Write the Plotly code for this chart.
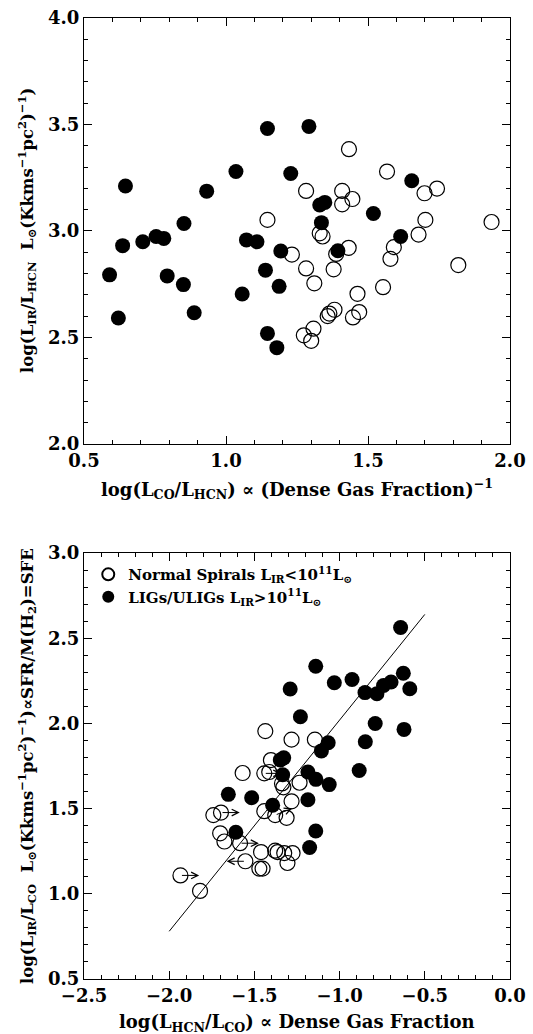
import plotly.graph_objects as go

# ---------------- Top panel data: log(LIR/LHCN) vs log(LCO/LHCN) ----------------
top_filled_x = [0.646, 0.636, 0.707, 0.754, 0.781, 0.852, 0.932, 1.035, 1.072, 1.109,
                1.146, 1.193, 1.228, 1.292, 1.330, 1.348, 1.336, 1.394, 1.519, 1.615,
                1.654, 0.590, 0.793, 0.850, 0.621, 0.888, 1.057, 1.139, 1.187, 1.146,
                1.179]
top_filled_y = [3.211, 2.931, 2.949, 2.974, 2.965, 3.035, 3.187, 3.279, 2.958, 2.949,
                3.481, 2.906, 3.270, 3.491, 3.122, 3.134, 3.039, 2.907, 3.082, 2.974,
                3.236, 2.794, 2.789, 2.748, 2.591, 2.616, 2.704, 2.816, 2.740, 2.519,
                2.452]
top_open_x = [1.146, 1.282, 1.433, 1.409, 1.409, 1.445, 1.567, 1.699, 1.743, 1.702,
              1.678, 1.935, 1.330, 1.340, 1.232, 1.432, 1.388, 1.591, 1.579, 1.818,
              1.282, 1.379, 1.311, 1.553, 1.463, 1.382, 1.364, 1.358, 1.447, 1.469,
              1.308, 1.274, 1.300]
top_open_y = [3.052, 3.188, 3.384, 3.188, 3.125, 3.150, 3.279, 3.177, 3.199, 3.052,
              2.983, 3.042, 2.989, 2.974, 2.889, 2.921, 2.892, 2.924, 2.869, 2.840,
              2.824, 2.820, 2.754, 2.736, 2.705, 2.630, 2.612, 2.600, 2.594, 2.619,
              2.541, 2.510, 2.484]

# ---------------- Bottom panel data: log(LIR/LCO) vs log(LHCN/LCO) ----------------
bot_filled_x = [-0.642, -1.140, -1.290, -1.031, -0.927, -0.851, -0.781, -0.742, -0.698, -0.626,
                -0.588, -1.230, -0.791, -0.622, -1.067, -1.107, -0.849, -1.328, -1.348, -1.334,
                -1.186, -1.139, -1.061, -0.885, -1.653, -1.516, -1.393, -1.186, -1.609, -1.140,
                -1.176]
bot_filled_y = [2.563, 2.336, 2.202, 2.239, 2.258, 2.181, 2.175, 2.223, 2.243, 2.295,
                2.204, 2.039, 2.000, 1.965, 1.887, 1.839, 1.893, 1.798, 1.786, 1.699,
                1.715, 1.672, 1.641, 1.724, 1.584, 1.564, 1.520, 1.552, 1.361, 1.369,
                1.272]
bot_open_x = [-1.436, -1.282, -1.145, -1.403, -1.413, -1.442, -1.569, -1.338, -1.235, -1.330,
              -1.282, -1.442, -1.378, -1.311, -1.741, -1.696, -1.701, -1.676, -1.584, -1.553,
              -1.461, -1.471, -1.452, -1.378, -1.364, -1.325, -1.276, -1.306, -1.934, -1.819]
bot_open_y = [1.955, 1.905, 1.905, 1.785, 1.715, 1.707, 1.709, 1.648, 1.652, 1.625,
              1.543, 1.485, 1.462, 1.446, 1.462, 1.477, 1.355, 1.307, 1.297, 1.191,
              1.245, 1.148, 1.148, 1.253, 1.245, 1.239, 1.239, 1.181, 1.108, 1.017]

# limit arrows (tail at a point, signed length along x)
arrow_x = [-1.934, -1.696, -1.584, -1.553, -1.378, -1.442]
arrow_y = [1.108, 1.477, 1.297, 1.191, 1.462, 1.707]
arrow_dx = [0.11, 0.11, 0.11, -0.11, 0.10, 0.10]
arrow_dy = [0.0, 0.0, 0.0, 0.0, 0.04, 0.0]

# fit line: log(LIR/LCO) = slope*log(LHCN/LCO) + intercept
fit_slope = 1.24
fit_intercept = 3.26
fit_xrange = [-2.0, -0.5]

# tick labels
top_xticks = [0.5, 1.0, 1.5, 2.0]
top_yticks = [2.0, 2.5, 3.0, 3.5, 4.0]
bot_xticks = [-2.5, -2.0, -1.5, -1.0, -0.5, 0.0]
bot_yticks = [0.5, 1.0, 1.5, 2.0, 2.5, 3.0]

FONT = "DejaVu Serif"
MS = 15

fig = go.Figure()

fig.add_trace(go.Scatter(x=top_open_x, y=top_open_y, mode="markers", xaxis="x", yaxis="y",
                         marker=dict(symbol="circle-open", size=MS, color="black",
                                     line=dict(width=1.2, color="black")),
                         showlegend=False))
fig.add_trace(go.Scatter(x=top_filled_x, y=top_filled_y, mode="markers", xaxis="x", yaxis="y",
                         marker=dict(symbol="circle", size=MS, color="black"),
                         showlegend=False))

fig.add_trace(go.Scatter(x=bot_open_x, y=bot_open_y, mode="markers", xaxis="x2", yaxis="y2",
                         marker=dict(symbol="circle-open", size=MS, color="black",
                                     line=dict(width=1.2, color="black")),
                         name="Normal Spirals L<sub>IR</sub>&lt;10<sup>11</sup>L<sub>⊙</sub>"))
fig.add_trace(go.Scatter(x=bot_filled_x, y=bot_filled_y, mode="markers", xaxis="x2", yaxis="y2",
                         marker=dict(symbol="circle", size=MS, color="black"),
                         name="LIGs/ULIGs L<sub>IR</sub>&gt;10<sup>11</sup>L<sub>⊙</sub>"))

fit_y = [fit_slope * v + fit_intercept for v in fit_xrange]
fig.add_trace(go.Scatter(x=fit_xrange, y=fit_y, mode="lines", xaxis="x2", yaxis="y2",
                         line=dict(color="black", width=1), showlegend=False))

for x0, y0, dx, dy in zip(arrow_x, arrow_y, arrow_dx, arrow_dy):
    fig.add_annotation(x=x0 + dx, y=y0 + dy, ax=x0, ay=y0, xref="x2", yref="y2",
                       axref="x2", ayref="y2", showarrow=True, arrowhead=5,
                       arrowsize=1.3, arrowwidth=1, arrowcolor="black", text="")

axis_common = dict(showline=True, linecolor="black", linewidth=1.3, mirror="ticks",
                   ticks="inside", ticklen=8, tickwidth=1.2, tickcolor="black",
                   showgrid=False, zeroline=False, tickformat=".1f",
                   tickfont=dict(family=FONT, size=18, color="black", weight="bold"),
                   minor=dict(dtick=0.1, ticks="inside", ticklen=4, tickwidth=1,
                              tickcolor="black", showgrid=False))

top_dom = [0.5568, 1.0]
bot_dom = [0.0, 0.4432]

fig.update_layout(
    width=533, height=1034,
    margin=dict(l=84, r=22, t=7, b=55),
    plot_bgcolor="white", paper_bgcolor="white",
    xaxis=dict(axis_common, range=[0.5, 2.0], tickvals=top_xticks, anchor="y",
               domain=[0, 1]),
    yaxis=dict(axis_common, range=[2.0, 4.0], tickvals=top_yticks, anchor="x",
               domain=top_dom),
    xaxis2=dict(axis_common, range=[-2.5, 0.0], tickvals=bot_xticks, anchor="y2",
                domain=[0, 1]),
    yaxis2=dict(axis_common, range=[0.5, 3.0], tickvals=bot_yticks, anchor="x2",
                domain=bot_dom),
    legend=dict(x=0.01, y=0.438, xanchor="left", yanchor="top",
                bgcolor="rgba(0,0,0,0)", borderwidth=0, tracegroupgap=0,
                font=dict(family=FONT, size=15, color="black", weight="bold"),
                itemsizing="constant"),
    showlegend=True,
)

xt_font = dict(family=FONT, size=18, color="black", weight="bold")
yt_font = dict(family=FONT, size=16.5, color="black", weight="bold")
fig.add_annotation(text="log(L<sub>CO</sub>/L<sub>HCN</sub>) ∝ (Dense Gas Fraction)<sup>−1</sup>",
                   xref="x domain", yref="y domain", x=0.5, y=0, yshift=-45,
                   showarrow=False, font=xt_font, xanchor="center", yanchor="middle")
fig.add_annotation(text="log(L<sub>IR</sub>/L<sub>HCN</sub>  L<sub>⊙</sub>(Kkms<sup>−1</sup>pc<sup>2</sup>)<sup>−1</sup>)",
                   xref="x domain", yref="y domain", x=0, y=0.5, xshift=-57, textangle=-90,
                   showarrow=False, font=yt_font, xanchor="center", yanchor="middle")
fig.add_annotation(text="log(L<sub>HCN</sub>/L<sub>CO</sub>) ∝ Dense Gas Fraction",
                   xref="x2 domain", yref="y2 domain", x=0.5, y=0, yshift=-44,
                   showarrow=False, font=xt_font, xanchor="center", yanchor="middle")
fig.add_annotation(text="log(L<sub>IR</sub>/L<sub>CO</sub>  L<sub>⊙</sub>(Kkms<sup>−1</sup>pc<sup>2</sup>)<sup>−1</sup>)∝SFR/M(H<sub>2</sub>)=SFE",
                   xref="x2 domain", yref="y2 domain", x=0, y=0.5, xshift=-57, textangle=-90,
                   showarrow=False, font=yt_font, xanchor="center", yanchor="middle")

fig.write_html("out.html", config={"displayModeBar": False},
               post_script="document.body.style.margin='0';")
